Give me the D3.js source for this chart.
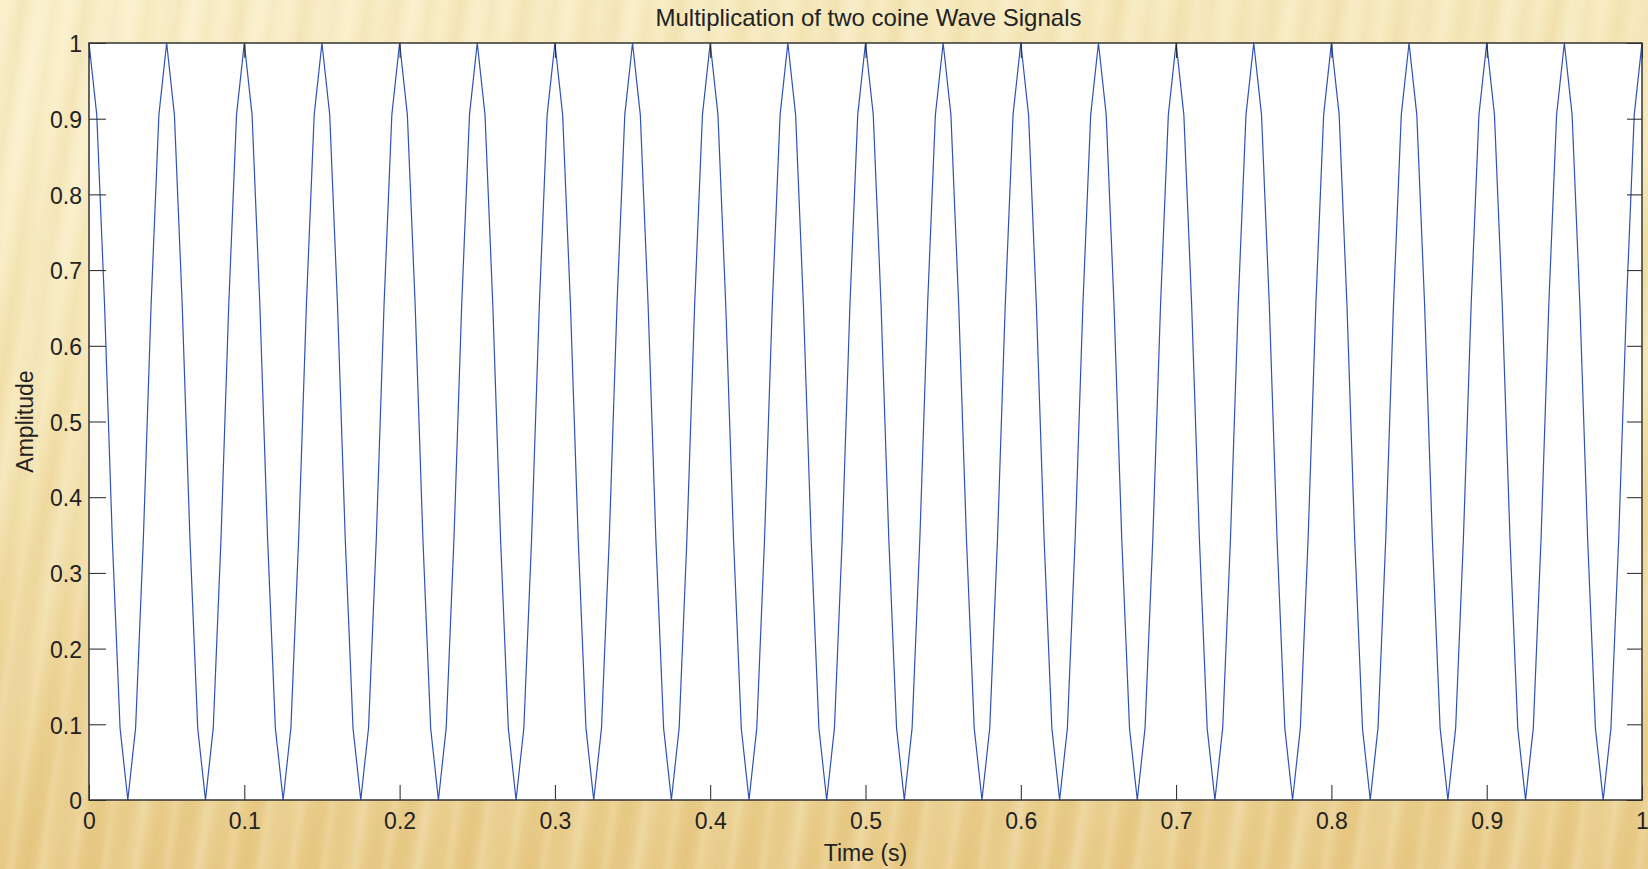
<!DOCTYPE html>
<html>
<head>
<meta charset="utf-8">
<script src="https://cdn.jsdelivr.net/npm/d3@7/dist/d3.min.js"></script>
<style>
    body { margin: 0; overflow: hidden; }
    #chart {
        width: 1648px;
        height: 869px;
        background:
            repeating-linear-gradient(98deg,
                rgba(255, 255, 255, 0) 0px,
                rgba(255, 252, 235, 0.18) 7px,
                rgba(255, 255, 255, 0) 15px,
                rgba(190, 145, 50, 0.05) 23px,
                rgba(255, 255, 255, 0) 31px),
            repeating-linear-gradient(104deg,
                rgba(255, 255, 255, 0) 0px,
                rgba(200, 155, 60, 0.05) 22px,
                rgba(255, 255, 255, 0.10) 47px,
                rgba(255, 255, 255, 0) 71px),
            radial-gradient(ellipse 900px 700px at 0% 10%, rgba(255, 250, 225, 0.4), rgba(255, 250, 225, 0)),
            linear-gradient(180deg, #f6e9bc 0%, #f2e0a8 45%, #e8ca86 100%);
    }
    text { font-family: "Liberation Sans", Arial, sans-serif; fill: #222; }
</style>
</head>
<body>
<div id="chart"></div>
<script>
// Tick labels
const xTicks = [0, 0.1, 0.2, 0.3, 0.4, 0.5, 0.6, 0.7, 0.8, 0.9, 1];
const yTicks = [0, 0.1, 0.2, 0.3, 0.4, 0.5, 0.6, 0.7, 0.8, 0.9, 1];

// Sampling interval of the signal (s)
const sampleStep = 0.005;

// Amplitude samples (one row per 0.05 s)
const amplitude = [
    1, 0.905, 0.655, 0.345, 0.095, 0, 0.095, 0.345, 0.655, 0.905,
    1, 0.905, 0.655, 0.345, 0.095, 0, 0.095, 0.345, 0.655, 0.905,
    1, 0.905, 0.655, 0.345, 0.095, 0, 0.095, 0.345, 0.655, 0.905,
    1, 0.905, 0.655, 0.345, 0.095, 0, 0.095, 0.345, 0.655, 0.905,
    1, 0.905, 0.655, 0.345, 0.095, 0, 0.095, 0.345, 0.655, 0.905,
    1, 0.905, 0.655, 0.345, 0.095, 0, 0.095, 0.345, 0.655, 0.905,
    1, 0.905, 0.655, 0.345, 0.095, 0, 0.095, 0.345, 0.655, 0.905,
    1, 0.905, 0.655, 0.345, 0.095, 0, 0.095, 0.345, 0.655, 0.905,
    1, 0.905, 0.655, 0.345, 0.095, 0, 0.095, 0.345, 0.655, 0.905,
    1, 0.905, 0.655, 0.345, 0.095, 0, 0.095, 0.345, 0.655, 0.905,
    1, 0.905, 0.655, 0.345, 0.095, 0, 0.095, 0.345, 0.655, 0.905,
    1, 0.905, 0.655, 0.345, 0.095, 0, 0.095, 0.345, 0.655, 0.905,
    1, 0.905, 0.655, 0.345, 0.095, 0, 0.095, 0.345, 0.655, 0.905,
    1, 0.905, 0.655, 0.345, 0.095, 0, 0.095, 0.345, 0.655, 0.905,
    1, 0.905, 0.655, 0.345, 0.095, 0, 0.095, 0.345, 0.655, 0.905,
    1, 0.905, 0.655, 0.345, 0.095, 0, 0.095, 0.345, 0.655, 0.905,
    1, 0.905, 0.655, 0.345, 0.095, 0, 0.095, 0.345, 0.655, 0.905,
    1, 0.905, 0.655, 0.345, 0.095, 0, 0.095, 0.345, 0.655, 0.905,
    1, 0.905, 0.655, 0.345, 0.095, 0, 0.095, 0.345, 0.655, 0.905,
    1, 0.905, 0.655, 0.345, 0.095, 0, 0.095, 0.345, 0.655, 0.905,
    1
];

const width = 1648;
const height = 869;
const margin = { top: 43, right: 6, bottom: 69, left: 89 };
const innerW = width - margin.left - margin.right;
const innerH = height - margin.top - margin.bottom;
const tickLen = 15;

const svg = d3.select("#chart")
    .append("svg")
    .attr("width", width)
    .attr("height", height);

const x = d3.scaleLinear().domain([0, 1]).range([margin.left, width - margin.right]);
const y = d3.scaleLinear().domain([0, 1]).range([height - margin.bottom, margin.top]);

// White plot area
svg.append("rect")
    .attr("x", margin.left)
    .attr("y", margin.top)
    .attr("width", innerW)
    .attr("height", innerH)
    .attr("fill", "#fff");

// Signal line
const line = d3.line()
    .x((d, i) => x(i * sampleStep))
    .y((d) => y(d));

svg.append("path")
    .datum(amplitude)
    .attr("fill", "none")
    .attr("stroke", "#2f52b8")
    .attr("stroke-width", 1.2)
    .attr("d", line);

// Inward ticks on all four sides (MATLAB box style)
const tickFmt = (d) => (d === 0 || d === 1 ? d3.format("d")(d) : d3.format(".1f")(d));

svg.append("g")
    .attr("transform", `translate(0,${height - margin.bottom})`)
    .call(d3.axisBottom(x).tickValues(xTicks).tickFormat(tickFmt).tickSizeInner(-tickLen).tickSizeOuter(0).tickPadding(13))
    .call((g) => g.select(".domain").remove())
    .call((g) => g.selectAll("line").attr("stroke", "#222"))
    .call((g) => g.selectAll("text").attr("font-size", "23px").attr("fill", "#222"));

svg.append("g")
    .attr("transform", `translate(0,${margin.top})`)
    .call(d3.axisTop(x).tickValues(xTicks).tickFormat("").tickSizeInner(-tickLen).tickSizeOuter(0))
    .call((g) => g.select(".domain").remove())
    .call((g) => g.selectAll("line").attr("stroke", "#222"));

svg.append("g")
    .attr("transform", `translate(${margin.left},0)`)
    .call(d3.axisLeft(y).tickValues(yTicks).tickFormat(tickFmt).tickSizeInner(-17).tickSizeOuter(0).tickPadding(7))
    .call((g) => g.select(".domain").remove())
    .call((g) => g.selectAll("line").attr("stroke", "#222"))
    .call((g) => g.selectAll("text").attr("font-size", "23px").attr("fill", "#222").attr("dy", "0.38em"));

svg.append("g")
    .attr("transform", `translate(${width - margin.right},0)`)
    .call(d3.axisRight(y).tickValues(yTicks).tickFormat("").tickSizeInner(-tickLen).tickSizeOuter(0))
    .call((g) => g.select(".domain").remove())
    .call((g) => g.selectAll("line").attr("stroke", "#222"));

// Box frame
svg.append("rect")
    .attr("x", margin.left)
    .attr("y", margin.top)
    .attr("width", innerW)
    .attr("height", innerH)
    .attr("fill", "none")
    .attr("stroke", "#333")
    .attr("stroke-width", 1.5);

// Title and axis labels
svg.append("text")
    .attr("x", margin.left + innerW / 2 + 3)
    .attr("y", 26)
    .attr("text-anchor", "middle")
    .attr("font-size", "24px")
    .text("Multiplication of two coine Wave Signals");

svg.append("text")
    .attr("x", margin.left + innerW / 2)
    .attr("y", 861)
    .attr("text-anchor", "middle")
    .attr("font-size", "23px")
    .text("Time (s)");

svg.append("text")
    .attr("transform", `translate(33,${margin.top + innerH / 2}) rotate(-90)`)
    .attr("text-anchor", "middle")
    .attr("font-size", "23px")
    .text("Amplitude");
</script>
</body>
</html>
